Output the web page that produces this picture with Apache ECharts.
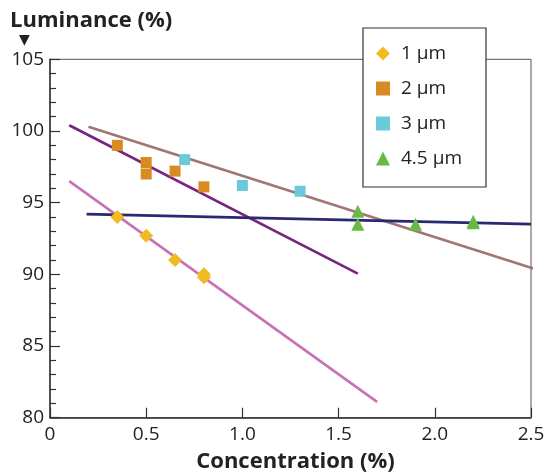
<!DOCTYPE html>
<html>
<head>
<meta charset="utf-8">
<script src="https://cdn.jsdelivr.net/npm/echarts@6/dist/echarts.min.js"></script>
<style>html,body{margin:0;padding:0;background:#fff}#c{width:546px;height:472px}</style>
</head>
<body>
<div id="c"></div>
<script>
// Data (concentration %, luminance %)
var names = ['1 µm', '2 µm', '3 µm', '4.5 µm'];
var pts1 = [[0.35, 94.0], [0.5, 92.7], [0.65, 91.0], [0.8, 90.0], [0.8, 89.8]];
var pts2 = [[0.35, 99.0], [0.5, 97.8], [0.5, 97.0], [0.65, 97.2], [0.8, 96.1]];
var pts3 = [[0.7, 98.0], [1.0, 96.2], [1.3, 95.8]];
var pts45 = [[1.6, 94.4], [1.6, 93.5], [1.9, 93.5], [2.2, 93.6], [2.2, 93.7]];
// Fit lines (endpoints)
var fit1 = [[0.1, 96.5], [1.7, 81.1]];
var fit2 = [[0.1, 100.4], [1.6, 90.05]];
var fit3 = [[0.2, 100.3], [2.55, 90.25]];
var fit45 = [[0.19, 94.2], [2.5, 93.5]];
var xTicks = [0, 0.5, 1.0, 1.5, 2.0, 2.5];
var yTicks = [80, 85, 90, 95, 100, 105];

var FONT = '"Open Sans", "Noto Sans", sans-serif';
var chart = echarts.init(document.getElementById('c'), null, {renderer: 'canvas'});
function lineSeries(d, color) {
  return {type: 'line', data: d, symbol: 'none', clip: false, z: 2,
    lineStyle: {color: color, width: 2.6}, silent: true, legendHoverLink: false};
}
chart.setOption({
  animation: false,
  backgroundColor: '#fff',
  textStyle: {fontFamily: FONT},
  title: {text: 'Luminance (%)', left: 5, top: 5,
    textStyle: {fontFamily: FONT, fontSize: 22, fontWeight: 'bold', color: '#222'}},
  graphic: [{type: 'text', left: 19, top: 33,
    style: {text: '▼', fontSize: 14, fill: '#222', fontFamily: 'DejaVu Sans'}}],
  grid: {left: 50, right: 15, top: 59.3, bottom: 54.3, show: true,
    outerBoundsMode: 'none', containLabel: false,
    borderColor: '#555', borderWidth: 1, backgroundColor: 'transparent'},
  legend: {
    data: names, orient: 'vertical', left: 363, top: 28,
    backgroundColor: '#fff', borderColor: '#333', borderWidth: 1.2, borderRadius: 0,
    padding: [16, 24, 19, 13], itemGap: 16, itemWidth: 14, itemHeight: 14,
    textStyle: {fontFamily: FONT, fontSize: 19, color: '#222', padding: [0, 0, 0, 6]}
  },
  xAxis: {
    type: 'value', min: 0, max: 2.5, interval: 0.5,
    name: 'Concentration (%)', nameLocation: 'middle', nameGap: 33,
    nameTextStyle: {fontFamily: FONT, fontSize: 22, fontWeight: 'bold', color: '#222',
      padding: [0, 0, 0, 10]},
    axisLine: {show: true, lineStyle: {color: '#333', width: 1.5}},
    axisTick: {show: true, inside: true, length: 10, lineStyle: {color: '#333', width: 1.2}},
    axisLabel: {fontFamily: FONT, fontSize: 19, color: '#222', margin: 7,
      formatter: function (v) { return v === 0 ? '0' : v.toFixed(1); }},
    splitLine: {show: false}
  },
  yAxis: {
    type: 'value', min: 80, max: 105, interval: 5,
    axisLine: {show: true, lineStyle: {color: '#333', width: 1.5}},
    axisTick: {show: true, inside: true, length: 10, lineStyle: {color: '#333', width: 1.2}},
    minorTick: {show: true, splitNumber: 5, length: 6, lineStyle: {color: '#333', width: 1.2}},
    axisLabel: {fontFamily: FONT, fontSize: 19, color: '#222', margin: 6},
    splitLine: {show: false}
  },
  series: [
    lineSeries(fit1, '#c672b4'),
    lineSeries(fit2, '#78247f'),
    lineSeries(fit3, '#a07575'),
    lineSeries(fit45, '#29296f'),
    {name: names[0], type: 'scatter', data: pts1, symbol: 'diamond', symbolSize: 14, z: 3,
      itemStyle: {color: '#f0bc22', opacity: 1}},
    {name: names[1], type: 'scatter', data: pts2, symbol: 'rect', symbolSize: 11, z: 3,
      itemStyle: {color: '#d88b20', opacity: 1}},
    {name: names[2], type: 'scatter', data: pts3, symbol: 'rect', symbolSize: 11, z: 3,
      itemStyle: {color: '#6acad9', opacity: 1}},
    {name: names[3], type: 'scatter', data: pts45, symbol: 'triangle', symbolSize: 13, z: 3,
      itemStyle: {color: '#6ab944', opacity: 1}}
  ]
});
</script>
</body>
</html>
